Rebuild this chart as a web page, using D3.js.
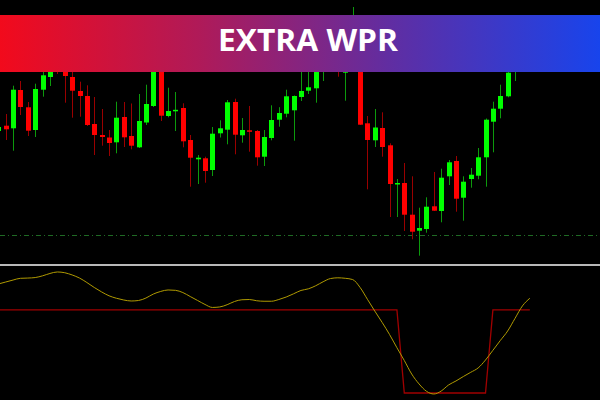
<!DOCTYPE html>
<html>
<head>
<meta charset="utf-8">
<script src="https://cdn.jsdelivr.net/npm/d3@7"></script>
<style>
html,body{margin:0;padding:0;background:#000;}
svg{display:block;}
</style>
</head>
<body>
<svg id="chart" width="600" height="400"></svg>
<script>
// ---- DATA ----
const titleText = "EXTRA WPR";
const opens  = [1969,1974.3,1971.7,2010,1992.7,1970,2010.3,2023,2045,2038,2023,2009,2004,1976,1965,1962.5,1957.7,1983,1964,1952.7,1977.5,1994,2035,1984,1989.2,1992,1960,1940.7,1941.7,1930,1966.7,1970.3,1998,1964.7,1969.7,1969,1943.3,1962,1980.3,1986.3,1989.7,2003,2009.3,2011.7,2034,2050,2040,2027.3,2040,2055,1976.7,1959.7,1972,1954.7,1916,1917,1885.3,1869.3,1871,1893.7,1889,1923.7,1939,1902.3,1921,1924.3,1942.7,1978.3,1991.3,2003.7,2028,2040,2050];
const highs  = [1975,1986,2014.3,2019,1998,2016.3,2028,2036,2050,2042,2030,2018.3,2014.7,2003,1991,1970,1998.3,1998,1996.5,2006,2015.3,2038,2040,2012.3,2008,1996.7,1965,1945,1943.3,1973,1979.7,2000,2001.3,1982,1994,1970,1970,1994.7,1992.8,2010.3,2004.5,2030,2030,2036,2048,2060,2045,2044,2093,2065,1984,1991,1987.7,1956.7,1921,1937,1923.7,1892.3,1902.7,1928,1931.3,1940,1944,1923.7,1932,1952,1981.5,1998.3,2015.3,2030,2045,2055,2062];
const lows   = [1966,1960,1949.3,1985,1964,1963,2003.3,2014,2026,1997.3,1982.3,1983.3,1974,1945,1954.3,1944,1946.7,1953,1950.7,1952,1975,1993,1979,1982.7,1969,1952.7,1913.3,1916,1917.3,1924,1962.5,1955.7,1945.7,1957.3,1948.3,1934.3,1934,1959.7,1973.3,1982.7,1959.3,1999,2006,1997.3,2019,2034,2023.3,1999.3,2035,1975,1910.7,1953,1943.3,1883,1883,1869,1860.7,1844.3,1867.3,1889,1877.7,1915,1888.3,1879.3,1912.3,1920.7,1913.3,1947.7,1981.7,2002.7,2019,2032,2038];
const closes = [1973,1970.7,2010.3,1993,1969.3,2011,2024.7,2032,2035,2024,2009.3,2004,1975,1965,1963,1957,1982.3,1962.7,1954.3,1979,1996,2032,1984.3,1989,1990.2,1958.7,1942.3,1942.3,1929,1966.3,1971.7,1997.7,1965.3,1970,1968.3,1942.7,1963,1980,1987,2003.7,2004,2009,2012.7,2032,2042,2042,2028,2038,2070,1975.3,1960,1972.5,1953,1916,1917,1885.3,1868.3,1872,1893.3,1889.3,1922.3,1937.7,1901.3,1918.3,1925.3,1942.7,1980.3,1991.3,2004,2027.3,2040,2050,2058];
const levelPrice = 1864.7;
const wprSmooth = [-12.1,-10.5,-8.9,-7.5,-7.3,-6.9,-5.5,-3.6,-2.4,-3.0,-4.8,-7.3,-10.9,-14.9,-18.5,-21.6,-23.6,-25.0,-25.8,-25.4,-23.4,-20.2,-18.1,-16.9,-17.2,-19.0,-22.2,-25.4,-28.6,-31.0,-30.6,-28.8,-26.2,-24.8,-24.6,-25.6,-26.0,-26.0,-24.6,-22.6,-20.0,-17.3,-16.0,-13.5,-10.3,-7.7,-7.1,-7.5,-8.5,-14.8,-24.4,-33.9,-43.1,-52.8,-63.5,-73.8,-84.7,-92.7,-98.6,-100.8,-98.4,-93.5,-90.3,-86.7,-83.3,-79.8,-73.4,-65.6,-57.7,-50.0,-39.8,-29.8,-23.6];
const signal = [-33,-33,-33,-33,-33,-33,-33,-33,-33,-33,-33,-33,-33,-33,-33,-33,-33,-33,-33,-33,-33,-33,-33,-33,-33,-33,-33,-33,-33,-33,-33,-33,-33,-33,-33,-33,-33,-33,-33,-33,-33,-33,-33,-33,-33,-33,-33,-33,-33,-33,-33,-33,-33,-33,-33,-100,-100,-100,-100,-100,-100,-100,-100,-100,-100,-100,-100,-33,-33,-33,-33,-33,-33];

// ---- CHART ----
const W = 600, H = 400;
const svg = d3.select("#chart");
svg.append("rect").attr("width", W).attr("height", H).attr("fill", "#000");

const n = opens.length;
const idx = d3.range(n);
const x = d3.scaleLinear().domain([0, n - 1]).range([-1.7, 529.8]);
const y = d3.scaleLinear().domain([2100, 1700]).range([0, 400]);
const yw = d3.scaleLinear().domain([0, -100]).range([269, 393]);

// level line (dash-dot)
svg.append("line")
  .attr("x1", 0).attr("x2", W)
  .attr("y1", Math.round(y(levelPrice)) + 0.5).attr("y2", Math.round(y(levelPrice)) + 0.5)
  .attr("stroke", "#1f6a24").attr("stroke-width", 1)
  .attr("stroke-dasharray", "5,3,1,3");

// candles
const candles = svg.append("g");
const up = i => closes[i] >= opens[i];
candles.selectAll("line.wick").data(idx).join("line")
  .attr("class", "wick")
  .attr("x1", i => Math.round(x(i)) + 0.5).attr("x2", i => Math.round(x(i)) + 0.5)
  .attr("y1", i => y(highs[i])).attr("y2", i => y(lows[i]))
  .attr("stroke", i => up(i) ? "#0c9a0c" : "#9a0000")
  .attr("stroke-width", 1);
candles.selectAll("rect.body").data(idx).join("rect")
  .attr("class", "body")
  .attr("x", i => Math.round(x(i)) - 2)
  .attr("width", 5)
  .attr("y", i => y(Math.max(opens[i], closes[i])))
  .attr("height", i => Math.max(1.5, Math.abs(y(opens[i]) - y(closes[i]))))
  .attr("fill", i => up(i) ? "#00ff00" : "#ff0000");

// panel separator
svg.append("rect").attr("x", 0).attr("y", 264).attr("width", W).attr("height", 2).attr("fill", "#b8b8b8");

// signal step line
svg.append("path")
  .datum(idx)
  .attr("fill", "none")
  .attr("stroke", "#a00000")
  .attr("stroke-width", 1.3)
  .attr("d", d3.line().x(i => x(i)).y(i => yw(signal[i])));

// smoothed wpr line
svg.append("path")
  .datum(idx)
  .attr("fill", "none")
  .attr("stroke", "#b09a00")
  .attr("stroke-width", 1)
  .attr("d", d3.line().curve(d3.curveMonotoneX).x(i => x(i)).y(i => yw(wprSmooth[i])));

// banner
const defs = svg.append("defs");
const grad = defs.append("linearGradient").attr("id", "bannerGrad").attr("x1", "0%").attr("x2", "100%").attr("y1", "0%").attr("y2", "0%");
grad.append("stop").attr("offset", "0%").attr("stop-color", "#f20a1c");
grad.append("stop").attr("offset", "33%").attr("stop-color", "#b01a58");
grad.append("stop").attr("offset", "66%").attr("stop-color", "#5e2ea4");
grad.append("stop").attr("offset", "100%").attr("stop-color", "#1844ec");
svg.append("rect").attr("x", 0).attr("y", 15).attr("width", W).attr("height", 57).attr("fill", "url(#bannerGrad)");
svg.append("text")
  .attr("x", 218).attr("y", 50.7)
  .attr("textLength", 180).attr("lengthAdjust", "spacingAndGlyphs")
  .attr("font-family", "'Open Sans', 'DejaVu Sans', sans-serif")
  .attr("font-weight", 700)
  .attr("font-size", 30)
  .attr("fill", "#ffffff")
  .text(titleText);
</script>
</body>
</html>
